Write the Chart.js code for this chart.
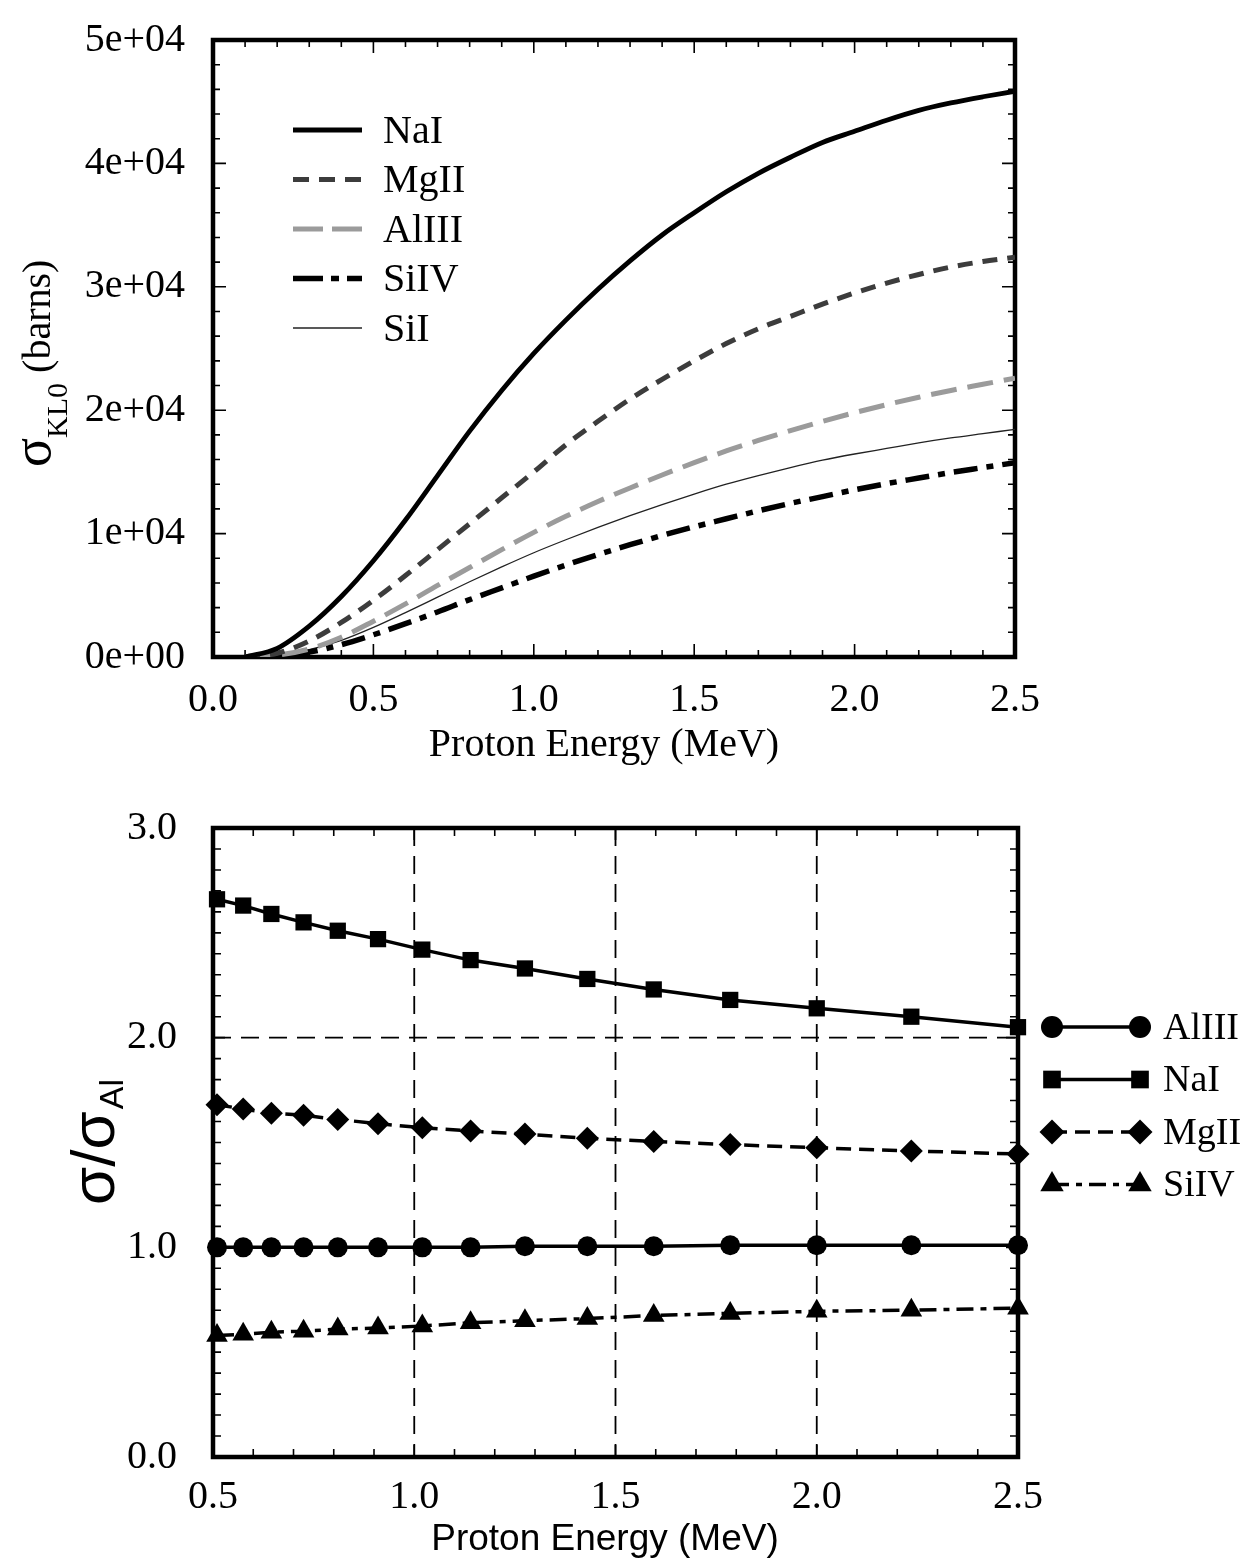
<!DOCTYPE html>
<html>
<head>
<meta charset="utf-8">
<script src="https://cdn.jsdelivr.net/npm/chart.js@4.4.0/dist/chart.umd.min.js"></script>
<style>
  body { margin: 0; background: #fff; }
  .wrap { position: relative; width: 1250px; height: 1563px; }
  canvas { position: absolute; left: 0; }
  #top { top: 0; }
  #bottom { top: 780px; }
</style>
</head>
<body>
<div class="wrap">
  <canvas id="top" width="1250" height="780"></canvas>
  <canvas id="bottom" width="1250" height="783"></canvas>
</div>
<script>
"use strict"
// K-shell ionisation cross sections (barns) against proton energy (MeV)
const energy = [0.1, 0.2, 0.3, 0.4, 0.5, 0.6, 0.7, 0.8, 0.9, 1.0, 1.1, 1.2, 1.3,
                1.4, 1.5, 1.6, 1.7, 1.8, 1.9, 2.0, 2.1, 2.2, 2.3, 2.4, 2.5];
const sigmaNaI  = [0, 700, 2500, 4900, 7800, 11100, 14700, 18300, 21600, 24600, 27300, 29800, 32100,
                   34200, 36000, 37700, 39200, 40500, 41700, 42600, 43500, 44300, 44900, 45400, 45850];
const sigmaMgII = [0, 300, 1300, 2800, 4600, 6600, 8700, 10800, 12900, 15000, 17200, 19100, 20900,
                   22500, 24000, 25400, 26600, 27600, 28600, 29500, 30300, 31000, 31600, 32050, 32400];
const sigmaAlIII = [0, 150, 650, 1600, 2900, 4300, 5800, 7250, 8700, 10100, 11400, 12600, 13700,
                    14750, 15750, 16700, 17550, 18350, 19100, 19800, 20450, 21050, 21600, 22100, 22600];
const sigmaSiIV = [0, 80, 400, 1000, 1800, 2700, 3650, 4650, 5600, 6550, 7450, 8300, 9100,
                   9850, 10550, 11200, 11850, 12450, 13000, 13550, 14050, 14500, 14950, 15350, 15750];
const sigmaSiI  = [0, 150, 600, 1350, 2400, 3600, 4850, 6100, 7300, 8450, 9500, 10500, 11450,
                   12350, 13200, 14000, 14700, 15350, 15950, 16450, 16900, 17350, 17750, 18100, 18450];

// ratio sigma / sigma(AlIII)
const ratioEnergy = [0.51, 0.575, 0.645, 0.725, 0.81, 0.91, 1.02, 1.14, 1.275, 1.43, 1.595, 1.785, 2.0, 2.235, 2.5];
const ratioAlIII = [1.00, 1.00, 1.00, 1.00, 1.00, 1.00, 1.00, 1.00, 1.005, 1.005, 1.005, 1.01, 1.01, 1.01, 1.01];
const ratioNaI   = [2.66, 2.63, 2.59, 2.55, 2.51, 2.47, 2.42, 2.37, 2.33, 2.28, 2.23, 2.18, 2.14, 2.10, 2.05];
const ratioMgII  = [1.68, 1.66, 1.64, 1.63, 1.61, 1.59, 1.57, 1.555, 1.54, 1.52, 1.505, 1.49, 1.475, 1.46, 1.445];
const ratioSiIV  = [0.58, 0.585, 0.595, 0.60, 0.61, 0.615, 0.625, 0.64, 0.65, 0.66, 0.675, 0.685, 0.695, 0.70, 0.71];

const topXTicks = [0, 0.5, 1.0, 1.5, 2.0, 2.5];
const topYTicks = [0, 10000, 20000, 30000, 40000, 50000];
const botXTicks = [0.5, 1.0, 1.5, 2.0, 2.5];
const botYTicks = [0.0, 1.0, 2.0, 3.0];

const serif = '"Liberation Serif", "Times New Roman", serif';
const sans = '"Liberation Sans", Arial, sans-serif';

function pts(xs, ys) {
    return xs.map((x, i) => ({x: x, y: ys[i]}));
}

function expLabel(v) {
    if (v === 0) return '0e+00';
    const e = Math.floor(Math.log10(v) + 1e-9);
    return Math.round(v / Math.pow(10, e)) + 'e+' + String(e).padStart(2, '0');
}

// frame, inward tick marks on every side, optional dashed reference lines
const boxTicks = {
    id: 'boxTicks',
    beforeDatasetsDraw(chart, args, o) {
        const {ctx, chartArea: a, scales: {x, y}} = chart;
        ctx.save();
        ctx.strokeStyle = '#000';
        if (o.gridX && o.gridX.length) {
            ctx.lineWidth = 1.8;
            ctx.setLineDash([18, 10]);
            ctx.beginPath();
            for (const v of o.gridX) {
                const p = x.getPixelForValue(v);
                ctx.moveTo(p, a.top); ctx.lineTo(p, a.bottom);
            }
            for (const v of o.gridY) {
                const p = y.getPixelForValue(v);
                ctx.moveTo(a.left, p); ctx.lineTo(a.right, p);
            }
            ctx.stroke();
            ctx.setLineDash([]);
        }
        ctx.lineWidth = 1.6;
        ctx.beginPath();
        const nx = Math.round((x.max - x.min) / o.xMinor);
        for (let i = 0; i <= nx; i++) {
            const v = x.min + i * o.xMinor;
            const r = v / o.xMajor;
            const len = Math.abs(r - Math.round(r)) < 1e-6 ? o.majorLen : o.minorLen;
            const p = x.getPixelForValue(v);
            ctx.moveTo(p, a.bottom); ctx.lineTo(p, a.bottom - len);
            ctx.moveTo(p, a.top); ctx.lineTo(p, a.top + len);
        }
        const ny = Math.round((y.max - y.min) / o.yMinor);
        for (let i = 0; i <= ny; i++) {
            const v = y.min + i * o.yMinor;
            const r = v / o.yMajor;
            const len = Math.abs(r - Math.round(r)) < 1e-6 ? o.majorLen : o.minorLen;
            const p = y.getPixelForValue(v);
            ctx.moveTo(a.left, p); ctx.lineTo(a.left + len, p);
            ctx.moveTo(a.right, p); ctx.lineTo(a.right - len, p);
        }
        ctx.stroke();
        ctx.lineWidth = o.frameWidth;
        ctx.strokeRect(a.left, a.top, a.width, a.height);
        ctx.restore();
    }
};

// ---------- upper panel: cross sections ----------
const topLabels = {
    id: 'topLabels',
    afterDraw(chart) {
        const ctx = chart.ctx;
        ctx.save();
        ctx.fillStyle = '#000';
        ctx.font = '40px ' + serif;
        ctx.textAlign = 'center';
        ctx.textBaseline = 'middle';
        ctx.fillText('Proton Energy (MeV)', 604, 745);

        // legend
        ctx.textAlign = 'left';
        chart.data.datasets.forEach((ds, i) => {
            const ly = 130 + i * 49.5;
            ctx.save();
            ctx.strokeStyle = ds.borderColor;
            ctx.lineWidth = ds.borderWidth;
            ctx.setLineDash(ds.legendDash || []);
            ctx.beginPath();
            ctx.moveTo(293, ly); ctx.lineTo(362, ly);
            ctx.stroke();
            ctx.restore();
            ctx.fillText(ds.label, 383, ly + 2);
        });

        // rotated axis title with subscript
        ctx.translate(50, 467);
        ctx.rotate(-Math.PI / 2);
        ctx.textBaseline = 'alphabetic';
        ctx.font = '54px ' + serif;
        ctx.fillText('σ', 0, 0);
        let cx = ctx.measureText('σ').width;
        ctx.font = '30px ' + serif;
        ctx.fillText('KL0', cx, 17);
        cx += ctx.measureText('KL0').width;
        ctx.font = '40px ' + serif;
        ctx.fillText(' (barns)', cx, 0);
        ctx.restore();
    }
};

new Chart(document.getElementById('top'), {
    type: 'line',
    data: {
        datasets: [
            {label: 'NaI', data: pts(energy, sigmaNaI), borderColor: '#000', borderWidth: 4.8, borderDash: []},
            {label: 'MgII', data: pts(energy, sigmaMgII), borderColor: '#3c3c3c', borderWidth: 5,
             borderDash: [15, 10], legendDash: [16, 10]},
            {label: 'AlIII', data: pts(energy, sigmaAlIII), borderColor: '#9b9b9b', borderWidth: 5,
             borderDash: [26, 11], legendDash: [30, 9]},
            {label: 'SiIV', data: pts(energy, sigmaSiIV), borderColor: '#000', borderWidth: 5.5,
             borderDash: [24, 9, 7, 9], legendDash: [30, 8, 8, 8]},
            {label: 'SiI', data: pts(energy, sigmaSiI), borderColor: '#222', borderWidth: 1.3, borderDash: []}
        ]
    },
    options: {
        responsive: false,
        animation: false,
        devicePixelRatio: 1,
        layout: {padding: {left: 0, right: 235, top: 22, bottom: 0}},
        elements: {
            point: {radius: 0},
            line: {cubicInterpolationMode: 'monotone', borderCapStyle: 'butt'}
        },
        scales: {
            x: {
                type: 'linear', min: 0, max: 2.5,
                afterFit: s => { s.height = 123; },
                afterBuildTicks: s => { s.ticks = topXTicks.map(v => ({value: v})); },
                grid: {display: false}, border: {display: false},
                ticks: {padding: 15, color: '#000', font: {family: serif, size: 40, lineHeight: 1},
                        callback: v => v.toFixed(1), maxRotation: 0, autoSkip: false}
            },
            y: {
                type: 'linear', min: 0, max: 50000,
                afterFit: s => { s.width = 213; },
                afterBuildTicks: s => { s.ticks = topYTicks.map(v => ({value: v})); },
                grid: {display: false}, border: {display: false},
                ticks: {padding: 20, color: '#000', font: {family: serif, size: 40, lineHeight: 1},
                        callback: v => expLabel(v)}
            }
        },
        plugins: {
            legend: {display: false},
            tooltip: {enabled: false},
            boxTicks: {xMinor: 0.1, xMajor: 0.5, yMinor: 2000, yMajor: 10000,
                       majorLen: 13, minorLen: 7, frameWidth: 4.5}
        }
    },
    plugins: [boxTicks, topLabels]
});

// ---------- lower panel: ratios to AlIII ----------
const botLabels = {
    id: 'botLabels',
    afterDraw(chart) {
        const ctx = chart.ctx;
        ctx.save();
        ctx.fillStyle = '#000';
        ctx.font = '37px ' + sans;
        ctx.textAlign = 'center';
        ctx.textBaseline = 'middle';
        ctx.fillText('Proton Energy (MeV)', 605, 760);

        // legend: line with a marker at each end
        ctx.font = '38px ' + serif;
        ctx.textAlign = 'left';
        chart.data.datasets.forEach((ds, i) => {
            const ly = 247 + i * 52.5;
            ctx.save();
            ctx.strokeStyle = '#000';
            ctx.lineWidth = ds.borderWidth;
            ctx.setLineDash(ds.borderDash);
            ctx.beginPath();
            ctx.moveTo(1052, ly); ctx.lineTo(1140, ly);
            ctx.stroke();
            ctx.setLineDash([]);
            const mk = {pointStyle: ds.pointStyle, radius: ds.pointRadius + 1, rotation: 0, borderWidth: 0};
            Chart.helpers.drawPoint(ctx, mk, 1052, ly);
            Chart.helpers.drawPoint(ctx, mk, 1140, ly);
            ctx.restore();
            ctx.fillText(ds.label, 1163, ly + 2);
        });

        // rotated axis title with subscript
        ctx.translate(114, 425);
        ctx.rotate(-Math.PI / 2);
        ctx.textBaseline = 'alphabetic';
        ctx.font = '62px ' + sans;
        ctx.fillText('σ/σ', 0, 0);
        const cx = ctx.measureText('σ/σ').width;
        ctx.font = '34px ' + sans;
        ctx.fillText('Al', cx + 2, 9);
        ctx.restore();
    }
};

const marker = {pointBackgroundColor: '#000', pointBorderWidth: 0, pointBorderColor: '#000',
                borderColor: '#000', borderWidth: 3.5, clip: false};

new Chart(document.getElementById('bottom'), {
    type: 'line',
    data: {
        datasets: [
            Object.assign({label: 'AlIII', data: pts(ratioEnergy, ratioAlIII), pointStyle: 'circle',
                           pointRadius: 10, borderDash: []}, marker),
            Object.assign({label: 'NaI', data: pts(ratioEnergy, ratioNaI), pointStyle: 'rect',
                           pointRadius: 11.5, borderDash: []}, marker),
            Object.assign({label: 'MgII', data: pts(ratioEnergy, ratioMgII), pointStyle: 'rectRot',
                           pointRadius: 11.5, borderDash: [15, 8]}, marker),
            Object.assign({label: 'SiIV', data: pts(ratioEnergy, ratioSiIV), pointStyle: 'triangle',
                           pointRadius: 12.5, borderDash: [17, 7, 6, 7]}, marker)
        ]
    },
    options: {
        responsive: false,
        animation: false,
        devicePixelRatio: 1,
        layout: {padding: {left: 0, right: 232, top: 32, bottom: 0}},
        elements: {line: {tension: 0}},
        scales: {
            x: {
                type: 'linear', min: 0.5, max: 2.5,
                afterFit: s => { s.height = 106; },
                afterBuildTicks: s => { s.ticks = botXTicks.map(v => ({value: v})); },
                grid: {display: false}, border: {display: false},
                ticks: {padding: 12, color: '#000', font: {family: serif, size: 40, lineHeight: 1},
                        callback: v => v.toFixed(1), maxRotation: 0, autoSkip: false}
            },
            y: {
                type: 'linear', min: 0, max: 3,
                afterFit: s => { s.width = 213; },
                afterBuildTicks: s => { s.ticks = botYTicks.map(v => ({value: v})); },
                grid: {display: false}, border: {display: false},
                ticks: {padding: 28, color: '#000', font: {family: serif, size: 40, lineHeight: 1},
                        callback: v => v.toFixed(1)}
            }
        },
        plugins: {
            legend: {display: false},
            tooltip: {enabled: false},
            boxTicks: {xMinor: 0.1, xMajor: 0.5, yMinor: 0.1, yMajor: 1.0,
                       majorLen: 12, minorLen: 8, frameWidth: 4.5,
                       gridX: [1.0, 1.5, 2.0], gridY: [2.0]}
        }
    },
    plugins: [boxTicks, botLabels]
});
</script>
</body>
</html>
